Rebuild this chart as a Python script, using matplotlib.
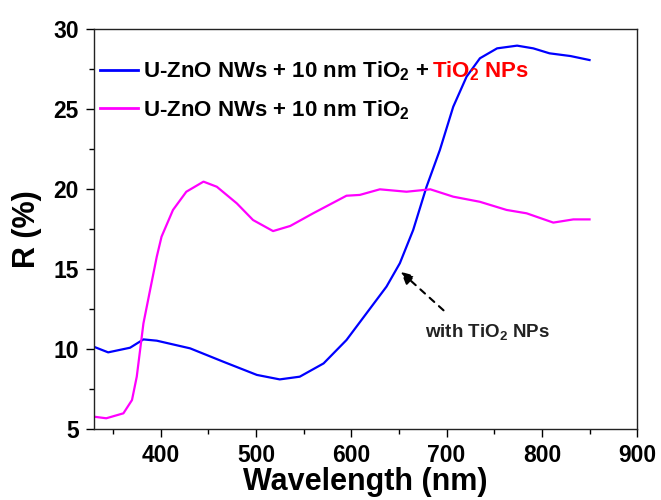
import numpy as np
import matplotlib
matplotlib.use('Agg')
import matplotlib.pyplot as plt
from matplotlib.ticker import MultipleLocator

plt.rcParams['font.family'] = ['Liberation Sans', 'DejaVu Sans']
plt.rcParams['font.weight'] = 'bold'
plt.rcParams['mathtext.default'] = 'regular'

# blue curve: U-ZnO NWs + 10 nm TiO2 + TiO2 NPs
wl_np = [330, 345, 368, 382, 396, 431, 466, 501, 525, 546, 571, 595, 616, 637,
         651, 665, 679, 693, 707, 721, 735, 753, 774, 791, 808, 830, 850]
r_np = [10.14, 9.79, 10.08, 10.6, 10.52, 10.04, 9.2, 8.38, 8.1, 8.27, 9.1, 10.56,
        12.23, 13.9, 15.36, 17.44, 20.14, 22.44, 25.14, 27.02, 28.17, 28.79,
        28.96, 28.79, 28.48, 28.31, 28.06]

# magenta curve: U-ZnO NWs + 10 nm TiO2
wl_ti = [330, 343, 361, 370, 375, 382, 389, 396, 401, 413, 427, 445, 459, 480,
         497, 518, 536, 560, 595, 609, 630, 658, 683, 707, 735, 763, 784, 812,
         833, 850]
r_ti = [5.77, 5.67, 5.98, 6.81, 8.27, 11.6, 13.69, 15.77, 17.02, 18.69, 19.83,
        20.46, 20.14, 19.1, 18.06, 17.37, 17.69, 18.48, 19.58, 19.63, 19.98,
        19.83, 19.98, 19.52, 19.2, 18.69, 18.48, 17.9, 18.1, 18.1]

fig = plt.figure(figsize=(6.61, 5.0), dpi=100)
ax = fig.add_axes([0.142, 0.142, 0.822, 0.8])

l1, = ax.plot(wl_np, r_np, color='#0000ff', lw=1.6)
l2, = ax.plot(wl_ti, r_ti, color='#ff00ff', lw=1.6)

ax.set_xlim(330, 900)
ax.set_ylim(5, 30)
ax.xaxis.set_major_locator(MultipleLocator(100))
ax.xaxis.set_minor_locator(MultipleLocator(50))
ax.yaxis.set_major_locator(MultipleLocator(5))
ax.yaxis.set_minor_locator(MultipleLocator(2.5))
ax.tick_params(which='major', direction='out', length=6, width=1, labelsize=16.5, pad=5)
ax.tick_params(which='minor', direction='out', length=3.5, width=1)
ax.tick_params(top=False, right=False)
for s in ax.spines.values():
    s.set_linewidth(1)
    s.set_color('#222222')

ax.set_xlabel('Wavelength (nm)', fontsize=22, fontweight='bold', labelpad=0)
ax.set_ylabel('R (%)', fontsize=22, fontweight='bold', labelpad=8)

# legend, with the red part added after the first label
leg = ax.legend([l1, l2], ['U-ZnO NWs + 10 nm TiO$_2$ + ', 'U-ZnO NWs + 10 nm TiO$_2$'],
                loc='upper left', bbox_to_anchor=(-0.005, 0.945), frameon=False,
                fontsize=16, handlelength=1.7, handletextpad=0.25, labelspacing=0.65,
                borderaxespad=0)
for h in leg.get_lines():
    h.set_linewidth(2)
t0 = leg.get_texts()[0]
ax.annotate('TiO$_2$ NPs', xy=(1, 0), xycoords=t0, xytext=(1, 0),
            textcoords='offset points', color='#ff0000', fontsize=16,
            fontweight='bold', ha='left', va='bottom', zorder=10)

ax.annotate('', xy=(650, 14.94), xytext=(699, 12.3),
            arrowprops=dict(arrowstyle='-|>', linestyle=(0, (3, 3)), color='black',
                            lw=1.5, mutation_scale=18))
ax.text(677, 11.06, 'with TiO$_2$ NPs', fontsize=13.5, fontweight='bold',
        ha='left', va='center', color='#222222')

fig.savefig('out.png', dpi=100)
